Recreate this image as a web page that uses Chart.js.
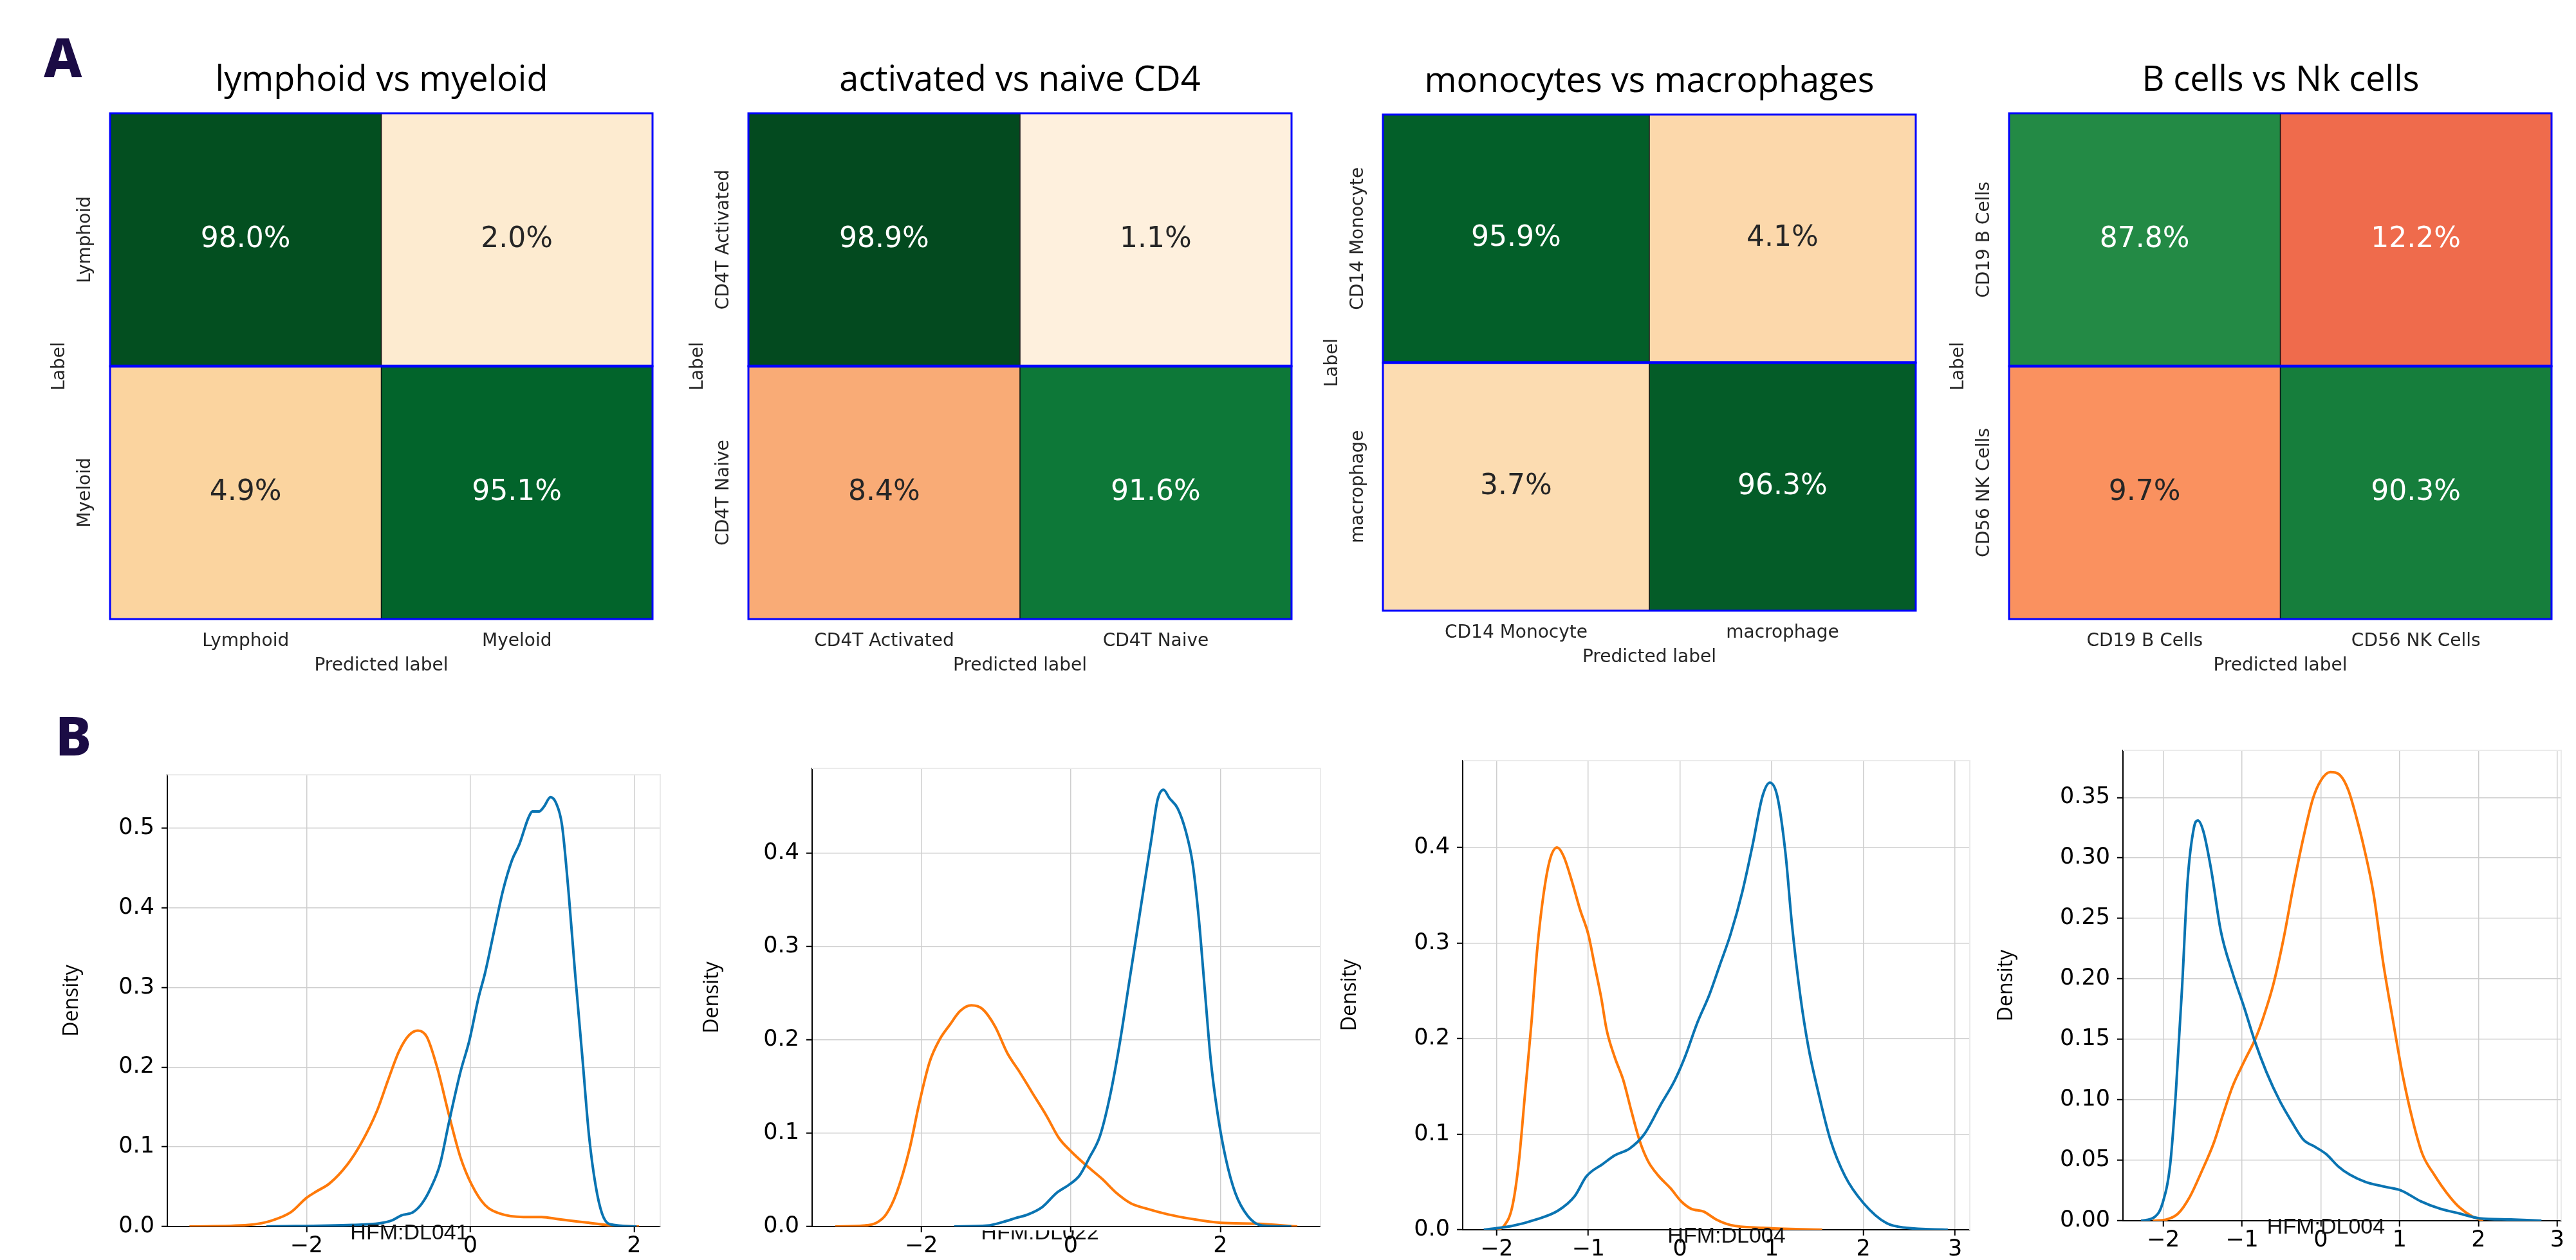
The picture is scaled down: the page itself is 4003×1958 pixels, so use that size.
<!DOCTYPE html>
<html>
<head>
<meta charset="utf-8">
<script src="https://cdn.jsdelivr.net/npm/chart.js@4.4.0/dist/chart.umd.min.js"></script>
<style>
  html, body { margin: 0; padding: 0; background: #fff; }
  #page { position: relative; width: 4003px; height: 1958px; overflow: hidden; background: #fff; }
  canvas { position: absolute; }
  .panel { position: absolute; font-family: 'Noto Sans', sans-serif; font-weight: 800; font-size: 84px; line-height: 1; color: #1b0c45; }
  .title { position: absolute; font-family: 'Open Sans', sans-serif; font-size: 54px; line-height: 1; color: #000; white-space: nowrap; transform: translateX(-50%); }
</style>
</head>
<body>
<div id="page">
  <div class="panel" style="left:68px;top:46px">A</div>
  <div class="panel" style="left:86px;top:1100px">B</div>
</div>
<script>
// ---- confusion matrices (row = true label, col = predicted) ----
const lymMyeTitle = 'lymphoid vs myeloid';
const lymMyeLabels = ['Lymphoid', 'Myeloid'];
const lymMyeValues = [[98.0, 2.0], [4.9, 95.1]];

const cd4Title = 'activated vs naive CD4';
const cd4Labels = ['CD4T Activated', 'CD4T Naive'];
const cd4Values = [[98.9, 1.1], [8.4, 91.6]];

const monoTitle = 'monocytes vs macrophages';
const monoLabels = ['CD14 Monocyte', 'macrophage'];
const monoValues = [[95.9, 4.1], [3.7, 96.3]];

const bnkTitle = 'B cells vs Nk cells';
const bnkLabels = ['CD19 B Cells', 'CD56 NK Cells'];
const bnkValues = [[87.8, 12.2], [9.7, 90.3]];

// ---- density curves [x, density] ----
const d1Label = 'HFM:DL041';
const d1Blue = [[-2.49,0],[-1.44,0.002],[-1.11,0.004],[-0.95,0.008],[-0.84,0.014],[-0.70,0.018],[-0.59,0.029],[-0.48,0.049],[-0.37,0.078],[-0.26,0.131],[-0.12,0.194],[-0.01,0.234],[0.10,0.287],[0.18,0.318],[0.32,0.385],[0.40,0.422],[0.51,0.460],[0.60,0.480],[0.71,0.513],[0.76,0.521],[0.84,0.521],[0.90,0.527],[0.98,0.539],[1.05,0.531],[1.12,0.504],[1.20,0.420],[1.28,0.318],[1.37,0.211],[1.45,0.114],[1.53,0.052],[1.61,0.016],[1.70,0.003],[2.03,0]];
const d1Orange = [[-3.43,0],[-2.71,0.002],[-2.44,0.007],[-2.19,0.018],[-2.00,0.036],[-1.88,0.044],[-1.72,0.054],[-1.50,0.078],[-1.33,0.105],[-1.14,0.145],[-1.00,0.185],[-0.87,0.220],[-0.75,0.240],[-0.64,0.246],[-0.53,0.238],[-0.40,0.198],[-0.26,0.140],[-0.12,0.087],[0.02,0.052],[0.18,0.027],[0.37,0.016],[0.65,0.012],[0.87,0.012],[1.09,0.009],[1.42,0.005],[1.75,0.001],[2.06,0]];

const d2Label = 'HFM:DL022';
const d2Blue = [[-1.56,0],[-1.12,0.001],[-0.90,0.005],[-0.74,0.009],[-0.57,0.013],[-0.38,0.021],[-0.19,0.036],[-0.02,0.045],[0.12,0.055],[0.25,0.074],[0.39,0.097],[0.53,0.142],[0.66,0.199],[0.77,0.256],[0.88,0.313],[0.99,0.370],[1.08,0.416],[1.16,0.457],[1.24,0.468],[1.32,0.459],[1.43,0.448],[1.54,0.423],[1.63,0.389],[1.71,0.332],[1.79,0.256],[1.87,0.180],[1.96,0.123],[2.07,0.074],[2.20,0.036],[2.37,0.011],[2.56,0.001],[2.95,0]];
const d2Orange = [[-3.15,0],[-2.77,0.001],[-2.60,0.004],[-2.47,0.013],[-2.33,0.036],[-2.16,0.082],[-2.03,0.131],[-1.89,0.176],[-1.75,0.201],[-1.62,0.216],[-1.48,0.231],[-1.33,0.237],[-1.18,0.233],[-1.01,0.214],[-0.85,0.186],[-0.68,0.165],[-0.52,0.144],[-0.32,0.118],[-0.16,0.095],[0.01,0.080],[0.20,0.066],[0.42,0.051],[0.61,0.036],[0.80,0.025],[1.02,0.019],[1.30,0.013],[1.63,0.008],[2.01,0.004],[2.51,0.003],[3.03,0]];

const d3Label = 'HFM:DL004';
const d3Blue = [[-2.14,0],[-1.83,0.004],[-1.56,0.011],[-1.33,0.020],[-1.15,0.035],[-1.02,0.056],[-0.84,0.069],[-0.71,0.078],[-0.55,0.085],[-0.39,0.100],[-0.21,0.131],[-0.06,0.156],[0.05,0.180],[0.19,0.217],[0.32,0.246],[0.43,0.276],[0.55,0.309],[0.68,0.354],[0.79,0.402],[0.90,0.454],[0.98,0.468],[1.06,0.454],[1.15,0.394],[1.22,0.320],[1.31,0.246],[1.40,0.191],[1.51,0.143],[1.64,0.094],[1.80,0.056],[2.00,0.028],[2.25,0.007],[2.47,0.002],[2.92,0]];
const d3Orange = [[-2.00,0],[-1.92,0.004],[-1.83,0.024],[-1.76,0.069],[-1.69,0.143],[-1.62,0.217],[-1.56,0.291],[-1.49,0.350],[-1.42,0.387],[-1.34,0.400],[-1.27,0.391],[-1.18,0.365],[-1.09,0.335],[-1.00,0.309],[-0.93,0.276],[-0.86,0.243],[-0.80,0.209],[-0.71,0.180],[-0.62,0.157],[-0.53,0.124],[-0.44,0.093],[-0.35,0.072],[-0.24,0.057],[-0.10,0.043],[0.01,0.030],[0.12,0.022],[0.26,0.019],[0.39,0.011],[0.55,0.005],[0.90,0.002],[1.55,0]];

const d4Label = 'HFM:DL004';
const d4Blue = [[-2.28,0],[-2.11,0.003],[-2.01,0.014],[-1.91,0.047],[-1.84,0.105],[-1.76,0.193],[-1.69,0.281],[-1.61,0.325],[-1.56,0.331],[-1.49,0.322],[-1.39,0.290],[-1.27,0.240],[-1.12,0.205],[-0.97,0.176],[-0.84,0.149],[-0.69,0.123],[-0.52,0.099],[-0.37,0.082],[-0.22,0.067],[-0.07,0.061],[0.07,0.055],[0.22,0.045],[0.37,0.038],[0.57,0.032],[0.82,0.028],[1.02,0.025],[1.27,0.016],[1.51,0.010],[1.76,0.006],[2.01,0.002],[2.41,0.001],[2.80,0]];
const d4Orange = [[-2.13,0],[-1.96,0.001],[-1.81,0.006],[-1.66,0.020],[-1.51,0.041],[-1.36,0.064],[-1.24,0.088],[-1.12,0.111],[-0.97,0.132],[-0.82,0.152],[-0.72,0.170],[-0.60,0.196],[-0.47,0.234],[-0.35,0.276],[-0.22,0.317],[-0.10,0.349],[0.00,0.364],[0.12,0.371],[0.25,0.368],[0.35,0.356],[0.45,0.334],[0.55,0.308],[0.67,0.270],[0.79,0.214],[0.92,0.164],[1.04,0.120],[1.17,0.082],[1.29,0.055],[1.44,0.038],[1.61,0.022],[1.76,0.011],[1.91,0.004],[2.06,0]];

// ---- styling ----
const cmapStops = [[0,'#fff4e6'],[1.1,'#fef0dd'],[2,'#fdebd0'],[4,'#fcd9ac'],[5,'#fbd39e'],[8.4,'#f9ab76'],[9.7,'#fa915f'],[12.2,'#ef6b4c'],[87.8,'#238a45'],[90.3,'#167e3c'],[91.6,'#0d7838'],[95.1,'#02642b'],[96.3,'#045c28'],[98,'#034f20'],[98.9,'#034a1f'],[100,'#02421b']];
const blueLine = '#0a74b2';
const orangeLine = '#ff7a0a';
const labelGrey = '#262626';

Chart.defaults.font.family = "'DejaVu Sans', sans-serif";
Chart.defaults.animation = false;

const page = document.getElementById('page');

function hexRgb(h) {
  return [parseInt(h.slice(1,3),16), parseInt(h.slice(3,5),16), parseInt(h.slice(5,7),16)];
}
function cmapRgb(v) {
  for (let i = 1; i < cmapStops.length; i++) {
    if (v <= cmapStops[i][0]) {
      const [v0, c0] = cmapStops[i-1], [v1, c1] = cmapStops[i];
      const t = (v - v0) / (v1 - v0), a = hexRgb(c0), b = hexRgb(c1);
      return a.map((x, k) => Math.round(x + (b[k] - x) * t));
    }
  }
  return hexRgb(cmapStops[cmapStops.length-1][1]);
}
function cmap(v) { const c = cmapRgb(v); return `rgb(${c[0]},${c[1]},${c[2]})`; }
function textOn(v) {
  const c = cmapRgb(v);
  return (0.299*c[0] + 0.587*c[1] + 0.114*c[2]) < 155 ? '#ffffff' : labelGrey;
}

function addCanvas(a, pl, pt, pr, pb) {
  const c = document.createElement('canvas');
  const w = Math.round(a.r - a.l + pl + pr), h = Math.round(a.b - a.t + pt + pb);
  c.width = w; c.height = h;
  c.style.left = Math.round(a.l - pl) + 'px';
  c.style.top = Math.round(a.t - pt) + 'px';
  c.style.width = w + 'px'; c.style.height = h + 'px';
  page.appendChild(c);
  return c;
}
function addTitle(text, cx, top) {
  const d = document.createElement('div');
  d.className = 'title';
  d.textContent = text;
  d.style.left = cx + 'px';
  d.style.top = top + 'px';
  page.appendChild(d);
}

// cell text, separators and row labels for the confusion matrices
function heatPlugin(labels, values) {
  const n = values.length;
  return {
    id: 'heat',
    afterDatasetsDraw(chart) {
      const {ctx, chartArea: a, scales: {x, y}} = chart;
      ctx.save();
      ctx.font = "44px 'DejaVu Sans'";
      ctx.textAlign = 'center';
      ctx.textBaseline = 'middle';
      values.forEach((row, r) => {
        chart.getDatasetMeta(r).data.forEach((bar, c) => {
          ctx.fillStyle = textOn(row[c]);
          ctx.fillText(row[c].toFixed(1) + '%', bar.x, (bar.y + bar.base) / 2);
        });
      });
      const xm = (x.getPixelForValue(0) + x.getPixelForValue(1)) / 2;
      ctx.strokeStyle = '#111';
      ctx.lineWidth = 1.5;
      ctx.beginPath(); ctx.moveTo(xm, a.top); ctx.lineTo(xm, a.bottom); ctx.stroke();
      ctx.strokeStyle = '#0000ff';
      ctx.lineWidth = 3;
      for (let r = 0; r < n; r++) {
        const y0 = y.getPixelForValue(n - r), y1 = y.getPixelForValue(n - 1 - r);
        ctx.strokeRect(a.left, y0, a.right - a.left, y1 - y0);
      }
      ctx.lineWidth = 4.5;
      const ym = y.getPixelForValue(1);
      ctx.beginPath(); ctx.moveTo(a.left, ym); ctx.lineTo(a.right, ym); ctx.stroke();
      // rotated row labels
      ctx.fillStyle = labelGrey;
      ctx.font = "28px 'DejaVu Sans'";
      labels.forEach((lab, r) => {
        const yc = (y.getPixelForValue(n - r) + y.getPixelForValue(n - 1 - r)) / 2;
        ctx.save();
        ctx.translate(a.left - 38, yc);
        ctx.rotate(-Math.PI / 2);
        ctx.fillText(lab, 0, 0);
        ctx.restore();
      });
      ctx.restore();
    }
  };
}

function heatmap(area, title, labels, values) {
  const padL = 110, padT = 10, padR = 12, padB = 100;
  const cv = addCanvas(area, padL, padT, padR, padB);
  addTitle(title, Math.round((area.l + area.r) / 2), area.t - 83);
  const n = values.length;
  new Chart(cv, {
    type: 'bar',
    data: {
      labels: labels,
      datasets: values.map((row, r) => ({
        data: row.map(() => [n - 1 - r, n - r]),
        backgroundColor: row.map(cmap),
        borderWidth: 0,
        grouped: false,
        barPercentage: 1,
        categoryPercentage: 1
      }))
    },
    options: {
      responsive: false,
      devicePixelRatio: 1,
      layout: { padding: { top: padT, right: padR, left: 0, bottom: 0 } },
      plugins: { legend: { display: false }, tooltip: { enabled: false } },
      scales: {
        x: {
          grid: { display: false, drawTicks: false },
          border: { display: false },
          ticks: { color: labelGrey, font: { size: 28 }, padding: 18 },
          title: { display: true, text: 'Predicted label', color: labelGrey, font: { size: 28 }, padding: { top: 0, bottom: 10 } },
          afterFit(s) { s.height = padB; }
        },
        y: {
          min: 0, max: n,
          grid: { display: false, drawTicks: false },
          border: { display: false },
          ticks: { display: false },
          title: { display: true, text: 'Label', color: labelGrey, font: { size: 28 }, padding: { top: 15, bottom: 0 } },
          afterFit(s) { s.width = padL; }
        }
      }
    },
    plugins: [heatPlugin(labels, values)]
  });
}

function minusFmt(v) { return v < 0 ? '\u2212' + Math.abs(v) : String(v); }

function densityPlugin(label, shift, clipTop) {
  return {
    id: 'dens',
    beforeDatasetsDraw(chart) {
      const {ctx, chartArea: a} = chart;
      ctx.save();
      ctx.strokeStyle = '#ebebeb';
      ctx.lineWidth = 2;
      ctx.beginPath();
      ctx.moveTo(a.left, a.top); ctx.lineTo(a.right, a.top); ctx.lineTo(a.right, a.bottom);
      ctx.stroke();
      ctx.restore();
    },
    afterDraw(chart) {
      const {ctx, chartArea: a} = chart;
      ctx.save();
      if (clipTop) {
        ctx.beginPath();
        ctx.rect(0, a.bottom + 6, chart.width, 100);
        ctx.clip();
      }
      ctx.font = "34px 'Liberation Sans Narrow', 'Liberation Sans'";
      ctx.fillStyle = '#111';
      ctx.textAlign = 'center';
      ctx.textBaseline = 'middle';
      ctx.fillText(label, (a.left + a.right) / 2 + shift, a.bottom + 11);
      ctx.restore();
    }
  };
}

function density(area, blue, orange, xr, yr, label, opts) {
  const padL = 200, padT = 20, padR = 25, padB = 52;
  const cv = addCanvas(area, padL, padT, padR, padB);
  const grid = { color: '#cfcfcf', lineWidth: 1.5, tickColor: '#000', tickLength: 9, tickWidth: 2 };
  const line = (pts, col) => ({
    data: pts.map(p => ({ x: p[0], y: p[1] })),
    borderColor: col,
    borderWidth: 4,
    pointRadius: 0,
    showLine: true,
    cubicInterpolationMode: 'monotone'
  });
  new Chart(cv, {
    type: 'scatter',
    data: { datasets: [line(blue, blueLine), line(orange, orangeLine)] },
    options: {
      responsive: false,
      devicePixelRatio: 1,
      layout: { padding: { top: padT, right: padR, left: 0, bottom: 0 } },
      plugins: { legend: { display: false }, tooltip: { enabled: false } },
      scales: {
        x: {
          type: 'linear', min: xr.min, max: xr.max,
          grid: grid,
          border: { color: '#000', width: 2 },
          ticks: { stepSize: xr.step, includeBounds: false, color: '#000', font: { size: 35 }, padding: 1, callback: minusFmt },
          afterFit(s) { s.height = padB; }
        },
        y: {
          min: 0, max: yr.max,
          grid: grid,
          border: { color: '#000', width: 2 },
          ticks: { stepSize: yr.step, includeBounds: false, color: '#000', font: { size: 35 }, padding: 11, callback: v => v.toFixed(yr.dec) },
          title: { display: true, text: 'Density', color: '#000', font: { family: "'Open Sans', sans-serif", size: 32 }, padding: { top: padL - opts.titleGap - 19 } },
          afterFit(s) { s.width = padL; }
        }
      }
    },
    plugins: [densityPlugin(label, opts.shift, opts.clip)]
  });
}

// ---- panel A ----
heatmap({ l: 171, t: 176, r: 1014, b: 962 }, lymMyeTitle, lymMyeLabels, lymMyeValues);
heatmap({ l: 1163, t: 176, r: 2007, b: 962 }, cd4Title, cd4Labels, cd4Values);
heatmap({ l: 2149, t: 178, r: 2977, b: 949 }, monoTitle, monoLabels, monoValues);
heatmap({ l: 3122, t: 176, r: 3965, b: 962 }, bnkTitle, bnkLabels, bnkValues);

// ---- panel B ----
density({ l: 260, t: 1192, r: 1026, b: 1906 }, d1Blue, d1Orange,
  { min: -3.70, max: 2.32, step: 2 }, { max: 0.567, step: 0.1, dec: 1 }, d1Label, { titleGap: 148, shift: -7, clip: false });
density({ l: 1262, t: 1182, r: 2052, b: 1906 }, d2Blue, d2Orange,
  { min: -3.46, max: 3.34, step: 2 }, { max: 0.491, step: 0.1, dec: 1 }, d2Label, { titleGap: 155, shift: -41, clip: true });
density({ l: 2273, t: 1170, r: 3061, b: 1911 }, d3Blue, d3Orange,
  { min: -2.37, max: 3.16, step: 1 }, { max: 0.491, step: 0.1, dec: 1 }, d3Label, { titleGap: 175, shift: 16, clip: false });
density({ l: 3299, t: 1154, r: 3980, b: 1897 }, d4Blue, d4Orange,
  { min: -2.51, max: 3.05, step: 1 }, { max: 0.389, step: 0.05, dec: 2 }, d4Label, { titleGap: 181, shift: -25, clip: false });
</script>
</body>
</html>
